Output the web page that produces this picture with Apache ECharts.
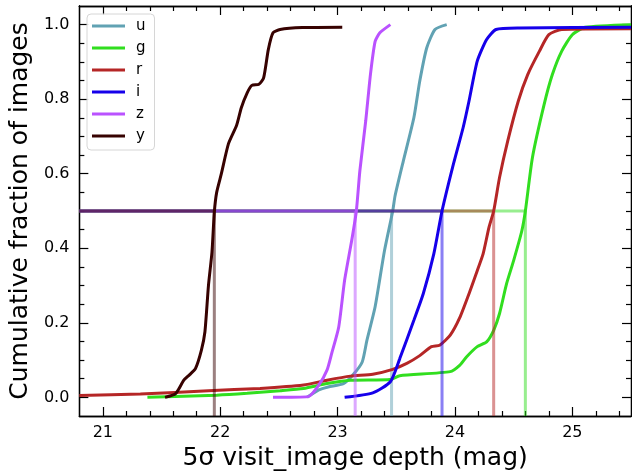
<!DOCTYPE html>
<html>
<head>
<meta charset="utf-8">
<script src="https://cdn.jsdelivr.net/npm/echarts@6/dist/echarts.min.js"></script>
<style>
html,body{margin:0;padding:0;background:#fff;}
#chart{width:632px;height:476px;}
</style>
</head>
<body>
<div id="chart"></div>
<script>
// ---- data ----
const bands = ['u', 'g', 'r', 'i', 'z', 'y'];
const bandColors = ['#61a2b3', '#31de1f', '#b52626', '#1600ea', '#ba52ff', '#370201'];

const uX = [22.74,22.84,22.92,23.05,23.13,23.21,23.25,23.32,23.40,23.47,23.49,23.56,23.65,23.70,23.76,23.83,23.93];
const uY = [0.0,0.02,0.028,0.037,0.06,0.095,0.153,0.243,0.394,0.50,0.541,0.634,0.75,0.848,0.938,0.987,1.0];

const gX = [21.38,21.97,22.23,22.51,22.71,22.91,23.11,23.45,23.53,23.96,24.04,24.10,24.19,24.27,24.33,24.38,24.44,24.50,24.57,24.60,24.66,24.76,24.83,24.91,25.00,25.11,25.5];
const gY = [0.0,0.006,0.011,0.018,0.024,0.037,0.046,0.048,0.058,0.069,0.086,0.109,0.136,0.149,0.18,0.225,0.305,0.367,0.447,0.50,0.643,0.786,0.866,0.929,0.973,0.993,1.0];

const rX = [20.8,21.32,21.9,22.34,22.71,22.91,23.11,23.30,23.47,23.59,23.70,23.80,23.87,23.96,24.04,24.12,24.19,24.24,24.29,24.33,24.38,24.45,24.54,24.62,24.72,24.80,24.91,25.5];
const rY = [0.005,0.009,0.018,0.024,0.033,0.046,0.057,0.062,0.075,0.091,0.112,0.136,0.14,0.167,0.213,0.278,0.34,0.385,0.456,0.50,0.59,0.688,0.795,0.866,0.929,0.973,0.987,0.989];

const iX = [23.06,23.30,23.45,23.53,23.65,23.73,23.82,23.89,23.98,24.07,24.12,24.19,24.27,24.35,24.55,25.5];
const iY = [0.0,0.012,0.042,0.104,0.207,0.278,0.385,0.50,0.617,0.724,0.795,0.902,0.96,0.987,0.991,0.993];

const zX = [22.45,22.75,22.84,22.91,22.95,23.01,23.06,23.12,23.16,23.19,23.24,23.28,23.32,23.36,23.45];
const zY = [0.0,0.002,0.033,0.073,0.118,0.189,0.314,0.42,0.50,0.608,0.742,0.866,0.955,0.978,1.0];

const yX = [21.53,21.62,21.69,21.74,21.79,21.84,21.87,21.90,21.93,21.95,21.97,22.01,22.07,22.14,22.18,22.23,22.27,22.33,22.37,22.41,22.45,22.51,22.70,23.04];
const yY = [0.0,0.01,0.046,0.061,0.078,0.127,0.176,0.30,0.39,0.497,0.55,0.60,0.68,0.73,0.777,0.817,0.837,0.84,0.857,0.933,0.978,0.987,0.992,0.993];

const medians = [23.46, 24.60, 24.33, 23.89, 23.15, 21.95];
const medianLevel = 0.5;

const xMajorTicks = [21, 22, 23, 24, 25];
const xMinorTicks = [21.2,21.4,21.6,21.8,22.2,22.4,22.6,22.8,23.2,23.4,23.6,23.8,24.2,24.4,24.6,24.8,25.2,25.4];
const yMajorTicks = [0.0, 0.2, 0.4, 0.6, 0.8, 1.0];
const yMinorTicks = [0.05,0.1,0.15,0.25,0.3,0.35,0.45,0.5,0.55,0.65,0.7,0.75,0.85,0.9,0.95];

const xMin = 20.8, xMax = 25.5, yMin = -0.05, yMax = 1.05;

// ---- build ----
const curveX = [uX, gX, rX, iX, zX, yX];
const curveY = [uY, gY, rY, iY, zY, yY];
const font = 'DejaVu Sans';

function xAxisDef(pos, ticks, len, labels) {
  return {
    type: 'value', position: pos, min: xMin, max: xMax,
    axisLine: { show: true, onZero: false, lineStyle: { color: '#000', width: 1.3 } },
    axisTick: { show: true, inside: true, length: len, customValues: ticks, lineStyle: { color: '#000', width: 1.2 } },
    axisLabel: labels ? { show: true, customValues: ticks, fontSize: 16, fontFamily: font, color: '#000', margin: 9 } : { show: false },
    splitLine: { show: false }
  };
}
function yAxisDef(pos, ticks, len, labels) {
  return {
    type: 'value', position: pos, min: yMin, max: yMax,
    axisLine: { show: true, onZero: false, lineStyle: { color: '#000', width: 1.3 } },
    axisTick: { show: true, inside: true, length: len, customValues: ticks, lineStyle: { color: '#000', width: 1.2 } },
    axisLabel: labels ? { show: true, customValues: ticks, fontSize: 16, fontFamily: font, color: '#000', margin: 10,
      formatter: v => v.toFixed(1) } : { show: false },
    splitLine: { show: false }
  };
}

const xAxes = [
  xAxisDef('bottom', xMajorTicks, 9, true),
  xAxisDef('top', xMajorTicks, 9, false),
  xAxisDef('bottom', xMinorTicks, 5, false),
  xAxisDef('top', xMinorTicks, 5, false)
];
Object.assign(xAxes[0], {
  name: '5σ visit_image depth (mag)', nameLocation: 'middle', nameGap: 30,
  nameTextStyle: { fontSize: 25, fontFamily: font, color: '#000' }
});
const yAxes = [
  yAxisDef('left', yMajorTicks, 9, true),
  yAxisDef('right', yMajorTicks, 9, false),
  yAxisDef('left', yMinorTicks, 5, false),
  yAxisDef('right', yMinorTicks, 5, false)
];
Object.assign(yAxes[0], {
  name: 'Cumulative fraction of images', nameLocation: 'middle', nameGap: 39,
  nameTextStyle: { fontSize: 25, fontFamily: font, color: '#000' }
});

const series = [];
bands.forEach((b, k) => {
  const col = bandColors[k];
  series.push({
    name: b, type: 'line', xAxisIndex: 0, yAxisIndex: 0,
    data: curveX[k].map((x, j) => [x, curveY[k][j]]),
    showSymbol: false, symbol: 'none', smooth: 0.2,
    lineStyle: { color: col, width: 3 }, itemStyle: { color: col },
    z: 3, silent: true, animation: false
  });
  series.push({
    name: b + '_h', type: 'line', xAxisIndex: 0, yAxisIndex: 0,
    data: [[xMin, medianLevel], [medians[k], medianLevel]],
    showSymbol: false, symbol: 'none',
    lineStyle: { color: col, width: 3, opacity: 0.5 }, z: 3, silent: true, animation: false
  });
  series.push({
    name: b + '_v', type: 'line', xAxisIndex: 0, yAxisIndex: 0,
    data: [[medians[k], yMin], [medians[k], medianLevel]],
    showSymbol: false, symbol: 'none',
    lineStyle: { color: col, width: 3, opacity: 0.5 }, z: 3, silent: true, animation: false
  });
});

const chart = echarts.init(document.getElementById('chart'), null, { renderer: 'canvas' });
chart.setOption({
  animation: false,
  backgroundColor: '#fff',
  grid: { left: 79, right: 1, top: 6, bottom: 58, containLabel: false },
  xAxis: xAxes,
  yAxis: yAxes,
  legend: {
    data: bands, orient: 'vertical', left: 87, top: 14,
    icon: 'rect', itemWidth: 33, itemHeight: 3, itemGap: 6,
    padding: [4, 9, 6, 5],
    backgroundColor: 'rgba(255,255,255,0.8)', borderColor: '#d6d6d6', borderWidth: 1, borderRadius: 4,
    textStyle: { fontSize: 15, fontFamily: font, color: '#000', lineHeight: 16, padding: [0, 0, 0, 6] },
    selectedMode: false
  },
  series: series
});
</script>
</body>
</html>
